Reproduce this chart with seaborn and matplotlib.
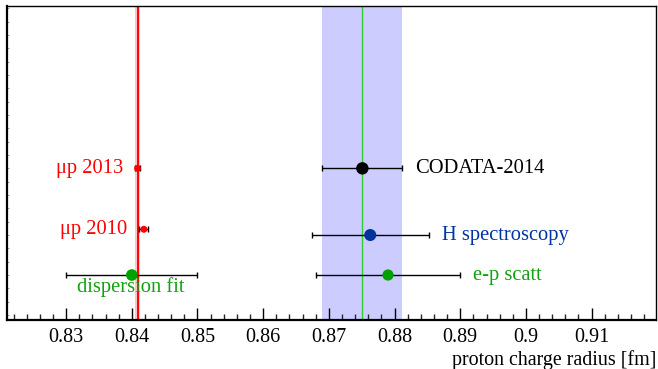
import numpy as np
import pandas as pd
import matplotlib
matplotlib.use("Agg")
import matplotlib.pyplot as plt
import seaborn as sns
from matplotlib.ticker import MultipleLocator, FormatStrFormatter

# ---- data ----
labels = ["μp 2013", "μp 2010", "dispersion fit", "CODATA-2014", "H spectroscopy", "e-p scatt"]
radius = [0.84087, 0.84184, 0.840, 0.8751, 0.8763, 0.8790]
radius_err = [0.00039, 0.00067, 0.010, 0.0061, 0.0089, 0.011]
row = [11, 6.43, 3, 11, 6, 3]
band_mu_center = 0.84087
band_mu_err = 0.00045
band_codata_center = 0.8751
band_codata_err = 0.0061
xtick_values = [0.83, 0.84, 0.85, 0.86, 0.87, 0.88, 0.89, 0.90, 0.91]

# ---- style ----
marker_colors = ["#ff0000", "#ff0000", "#00a000", "#000000", "#003399", "#00a000"]
text_colors = ["#ff0000", "#ff0000", "#10a010", "#000000", "#0033a0", "#10a010"]
marker_sizes = [25, 25, 70, 80, 75, 65]
# label offsets in points relative to the data point, and alignment
label_offsets = [(-10.5, 0), (-12, 0), (-1, -8.5), (38, 0), (52, 0), (61, 0)]
label_ha = ["right", "right", "center", "left", "left", "left"]

sns.set_theme(style="white")
plt.rcParams["font.family"] = ["Liberation Serif", "DejaVu Serif"]

df = pd.DataFrame({"label": labels, "radius": radius, "err": radius_err, "row": row})

fig = plt.figure(figsize=(6.58, 3.69), dpi=100)
ax = fig.add_axes([7 / 658, 49 / 369, 649 / 658, 314 / 369])

# bands
ax.axvspan(band_codata_center - band_codata_err, band_codata_center + band_codata_err,
           color="#ccccff", lw=0, zorder=0)
ax.axvline(band_codata_center, color="#33cc33", lw=1.0, zorder=1)
ax.axvspan(band_mu_center - band_mu_err, band_mu_center + band_mu_err,
           color="#ffc4c4", lw=0, zorder=0)
ax.axvline(band_mu_center, color="#ff0000", lw=1.4, zorder=1)

# error bars
ax.errorbar(df["radius"], df["row"], xerr=df["err"], fmt="none", ecolor="black",
            elinewidth=1.0, capsize=2.5, capthick=1.0, zorder=2)

# points
sns.scatterplot(data=df, x="radius", y="row", hue="label", palette=dict(zip(labels, marker_colors)),
                size="label", sizes=dict(zip(labels, marker_sizes)), legend=False,
                edgecolor="none", linewidth=0, ax=ax, zorder=3)

for i, lab in enumerate(labels):
    ax.annotate(lab, (radius[i], row[i]), xytext=label_offsets[i], textcoords="offset points",
                ha=label_ha[i], va="center", color=text_colors[i], fontsize=14.8,
                family=["Liberation Serif", "DejaVu Serif"])

ax.set_xlim(0.821, 0.9198)
ax.set_ylim(-0.375, 23.18)
ax.set_xticks(xtick_values)
ax.xaxis.set_major_formatter(FormatStrFormatter("%g"))
ax.xaxis.set_minor_locator(MultipleLocator(0.002))
ax.yaxis.set_minor_locator(MultipleLocator(1))
ax.set_yticks([])
ax.tick_params(axis="x", which="major", direction="in", length=8.5, width=1.0, labelsize=14.5,
               bottom=True, top=False, pad=6, colors="black")
ax.tick_params(axis="x", which="minor", direction="in", length=4.3, width=1.0,
               bottom=True, top=False)
ax.tick_params(axis="y", which="minor", direction="in", length=1.4, width=0.6,
               left=True, right=False, colors="#888888")
for s in ["left", "bottom"]:
    ax.spines[s].set_linewidth(1.6)
    ax.spines[s].set_color("black")
for s in ["top", "right"]:
    ax.spines[s].set_linewidth(1.0)
    ax.spines[s].set_color("black")

ax.set_xlabel("")
ax.set_ylabel("")
fig.text(656 / 658, 9 / 369, "proton charge radius [fm]", ha="right", va="center",
         fontsize=14.4, color="black")

fig.savefig("out.png", dpi=100)
